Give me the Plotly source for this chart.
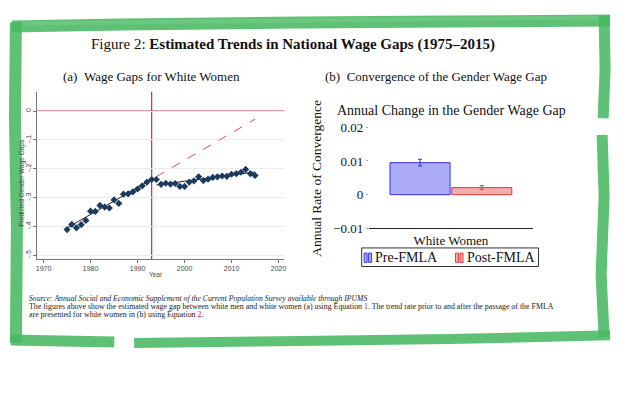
import plotly.graph_objects as go

W, H = 623, 395

# ---------------- data ----------------
years = list(range(1975, 2016))
wage_gap = [-0.411, -0.393, -0.405, -0.394, -0.379, -0.347, -0.348, -0.327, -0.333, -0.336,
            -0.308, -0.320, -0.288, -0.287, -0.280, -0.270, -0.259, -0.246, -0.237, -0.237,
            -0.254, -0.250, -0.253, -0.251, -0.261, -0.261, -0.246, -0.242, -0.228, -0.241,
            -0.236, -0.230, -0.228, -0.225, -0.226, -0.219, -0.217, -0.212, -0.202, -0.217,
            -0.223]
fmla_year = 1993
pre_fit_years = [1975, 1993]
pre_fit_vals = [-0.405, -0.237]
post_fit_years = [1994, 2015]
post_fit_vals = [-0.256, -0.211]
counterfactual_years = [1994, 2015]
counterfactual_vals = [-0.227, -0.028]

x_ticks_a = [1970, 1980, 1990, 2000, 2010, 2020]
y_ticks_a = [0, -0.1, -0.2, -0.3, -0.4, -0.5]
y_ticktext_a = ["0", "-.1", "-.2", "-.3", "-.4", "-.5"]

bar_category = ["White Women"]
series_names = ["Pre-FMLA", "Post-FMLA"]
pre_rate = [0.0095]
pre_err = [0.001]
post_rate = [0.0021]
post_err = [0.0006]
y_ticks_b = [-0.01, 0, 0.01, 0.02]
y_ticktext_b = ["\u22120.01", "0", "0.01", "0.02"]


def X(px):
    return px / W


def Y(py):
    return 1 - py / H


SERIF = "Liberation Serif"
SANS = "Liberation Sans"
NAVY = "#1c3a5e"
REF = "#b0354f"
BLUE_FILL, BLUE_LINE = "#acacf7", "#3535e0"
RED_FILL, RED_LINE = "#f7acac", "#e03a3a"

fig = go.Figure()

# ---------------- panel (a) ----------------
fig.add_trace(go.Scatter(x=pre_fit_years, y=pre_fit_vals, mode="lines",
                         line=dict(color="#222", width=1), xaxis="x", yaxis="y",
                         showlegend=False, hoverinfo="skip"))
fig.add_trace(go.Scatter(x=post_fit_years, y=post_fit_vals, mode="lines",
                         line=dict(color="#222", width=1), xaxis="x", yaxis="y",
                         showlegend=False, hoverinfo="skip"))
fig.add_trace(go.Scatter(x=counterfactual_years, y=counterfactual_vals, mode="lines",
                         line=dict(color="#e04a4a", width=1, dash="dash"),
                         xaxis="x", yaxis="y", showlegend=False, hoverinfo="skip"))
fig.add_trace(go.Scatter(x=years, y=wage_gap, mode="markers",
                         marker=dict(symbol="diamond", size=5.5, color=NAVY),
                         xaxis="x", yaxis="y", showlegend=False))

# ---------------- panel (b) ----------------
fig.add_trace(go.Bar(x=bar_category, y=pre_rate, name=series_names[0],
                     marker=dict(color=BLUE_FILL, line=dict(color=BLUE_LINE, width=1)),
                     error_y=dict(type="data", array=pre_err, color=BLUE_LINE,
                                  thickness=1, width=2),
                     xaxis="x2", yaxis="y2", showlegend=False))
fig.add_trace(go.Bar(x=bar_category, y=post_rate, name=series_names[1],
                     marker=dict(color=RED_FILL, line=dict(color=RED_LINE, width=1)),
                     error_y=dict(type="data", array=post_err, color=RED_LINE,
                                  thickness=1, width=2),
                     xaxis="x2", yaxis="y2", showlegend=False))

fig.update_layout(
    width=W, height=H,
    margin=dict(l=0, r=0, t=0, b=0),
    paper_bgcolor="white", plot_bgcolor="white",
    barmode="group", bargap=0.247, bargroupgap=0.027,
    xaxis=dict(domain=[X(35.7), X(284)], range=[1968.7, 2021.2],
               tickvals=x_ticks_a, ticks="outside", ticklen=3, tickcolor="#777",
               showline=True, linecolor="#777", linewidth=1, showgrid=False,
               zeroline=False, tickfont=dict(family=SANS, size=7, color="#444")),
    yaxis=dict(domain=[Y(264), Y(93)], range=[-0.513, 0.067],
               tickvals=y_ticks_a, ticktext=y_ticktext_a, tickangle=-90,
               ticks="outside", ticklen=3, tickcolor="#777",
               showline=True, linecolor="#777", linewidth=1,
               showgrid=True, gridcolor="#ececec", gridwidth=1, zeroline=False,
               tickfont=dict(family=SANS, size=7, color="#444")),
    xaxis2=dict(domain=[X(369.3), X(534.3)], anchor="y2", type="category",
                showline=True, linecolor="#222", linewidth=1, ticks="",
                showgrid=False, tickfont=dict(family=SERIF, size=13, color="#111")),
    yaxis2=dict(domain=[Y(232.7), Y(122.3)], anchor="x2", range=[-0.01, 0.022],
                tickvals=y_ticks_b, ticktext=y_ticktext_b, ticks="outside",
                ticklen=2, tickcolor="#aaa", showline=False, showgrid=False,
                zeroline=False, tickfont=dict(family=SERIF, size=13, color="#111")),
)

ann = []
ann.append(dict(text="Figure 2: <b>Estimated Trends in National Wage Gaps (1975\u20132015)</b>",
                x=X(292.5), y=Y(44.5), xanchor="center", yanchor="middle",
                font=dict(family=SERIF, size=15, color="#111")))
ann.append(dict(text="(a)\u2002Wage Gaps for White Women", x=X(150), y=Y(77),
                xanchor="center", yanchor="middle",
                font=dict(family=SERIF, size=13, color="#111")))
ann.append(dict(text="(b)\u2002Convergence of the Gender Wage Gap", x=X(437), y=Y(77),
                xanchor="center", yanchor="middle",
                font=dict(family=SERIF, size=13, color="#111")))
ann.append(dict(text="Predicted Gender Wage Gaps", x=X(20), y=Y(186), textangle=-90,
                xanchor="center", yanchor="middle",
                font=dict(family=SANS, size=6.5, color="#444")))
ann.append(dict(text="Year", x=X(155), y=Y(280), xanchor="center", yanchor="middle",
                font=dict(family=SANS, size=6.5, color="#444")))
ann.append(dict(text="Annual Change in the Gender Wage Gap", x=X(452), y=Y(111.7),
                xanchor="center", yanchor="middle",
                font=dict(family=SERIF, size=14, color="#111")))
ann.append(dict(text="Annual Rate of Convergence", x=X(317), y=Y(181), textangle=-90,
                xanchor="center", yanchor="middle",
                font=dict(family=SERIF, size=13.5, color="#111")))
# legend texts
ann.append(dict(text=series_names[0], x=X(373), y=Y(262.3), xanchor="left",
                yanchor="middle", font=dict(family=SERIF, size=14, color="#111")))
ann.append(dict(text=series_names[1], x=X(466), y=Y(262.3), xanchor="left",
                yanchor="middle", font=dict(family=SERIF, size=14, color="#111")))
# caption
ann.append(dict(text="<i>Source: Annual Social and Economic Supplement of the Current Population Survey available through IPUMS</i>",
                x=X(25), y=Y(304.8), xanchor="left", yanchor="middle",
                font=dict(family=SERIF, size=7.7, color="#222")))
ann.append(dict(text='The figures above show the estimated wage gap between white men and white women (a) using Equation <span style="color:#c0282d">1</span>. The trend rate prior to and after the passage of the FMLA',
                x=X(25), y=Y(313), xanchor="left", yanchor="middle",
                font=dict(family=SERIF, size=7.9, color="#222")))
ann.append(dict(text='are presented for white women in (b) using Equation <span style="color:#c0282d">2</span>.',
                x=X(25), y=Y(321.2), xanchor="left", yanchor="middle",
                font=dict(family=SERIF, size=7.9, color="#222")))
for a in ann:
    a.update(xref="paper", yref="paper", showarrow=False)
fig.update_layout(annotations=ann)

shapes = []
# reference lines (FMLA year and zero gap)
shapes.append(dict(type="line", xref="x", yref="y domain", x0=fmla_year, x1=fmla_year,
                   y0=0, y1=1, line=dict(color=REF, width=1.2), layer="below"))
shapes.append(dict(type="line", xref="x domain", yref="y", x0=0, x1=1, y0=0, y1=0,
                   line=dict(color=REF, width=1.2), layer="below"))
# legend box and icons
shapes.append(dict(type="rect", xref="paper", yref="paper", layer="above",
                   x0=X(362), x1=X(540), y0=Y(271.7), y1=Y(252.7),
                   fillcolor="rgba(0,0,0,0)", line=dict(color="#333", width=1)))
for (x0, c_fill, c_line) in [(364.5, BLUE_FILL, BLUE_LINE), (456.5, RED_FILL, RED_LINE)]:
    for dx in (0, 4.5):
        shapes.append(dict(type="rect", xref="paper", yref="paper", layer="above",
                           x0=X(x0 + dx), x1=X(x0 + dx + 3), y0=Y(267.5), y1=Y(258),
                           fillcolor=c_fill, line=dict(color=c_line, width=1)))

# green painted frame
GREEN = "rgba(72,184,98,0.88)"
GREEN2 = "rgba(120,205,135,0.55)"


def stroke(pts, width, color=GREEN):
    d = "M " + " L ".join(f"{X(px):.5f} {Y(py):.5f}" for px, py in pts)
    return dict(type="path", path=d, xref="paper", yref="paper",
                line=dict(color=color, width=width), layer="above")


shapes.append(stroke([(10, 26), (120, 24), (300, 22), (450, 21), (612, 20)], 12))
shapes.append(stroke([(20, 23), (300, 20), (600, 17)], 4, GREEN2))
shapes.append(stroke([(14, 22), (13, 120), (15, 230), (14, 350)], 12))
shapes.append(stroke([(606, 15), (607, 70), (605, 120)], 11))
shapes.append(stroke([(604, 137), (606, 200), (603, 280), (606, 344)], 11))
shapes.append(stroke([(9, 347), (60, 348), (113, 349)], 11))
shapes.append(stroke([(133, 350), (300, 348), (450, 346), (612, 342)], 10))
fig.layout.shapes = shapes

fig.write_html("out.html", config={"displayModeBar": False},
               post_script="document.body.style.margin='0';document.body.style.padding='0';")
